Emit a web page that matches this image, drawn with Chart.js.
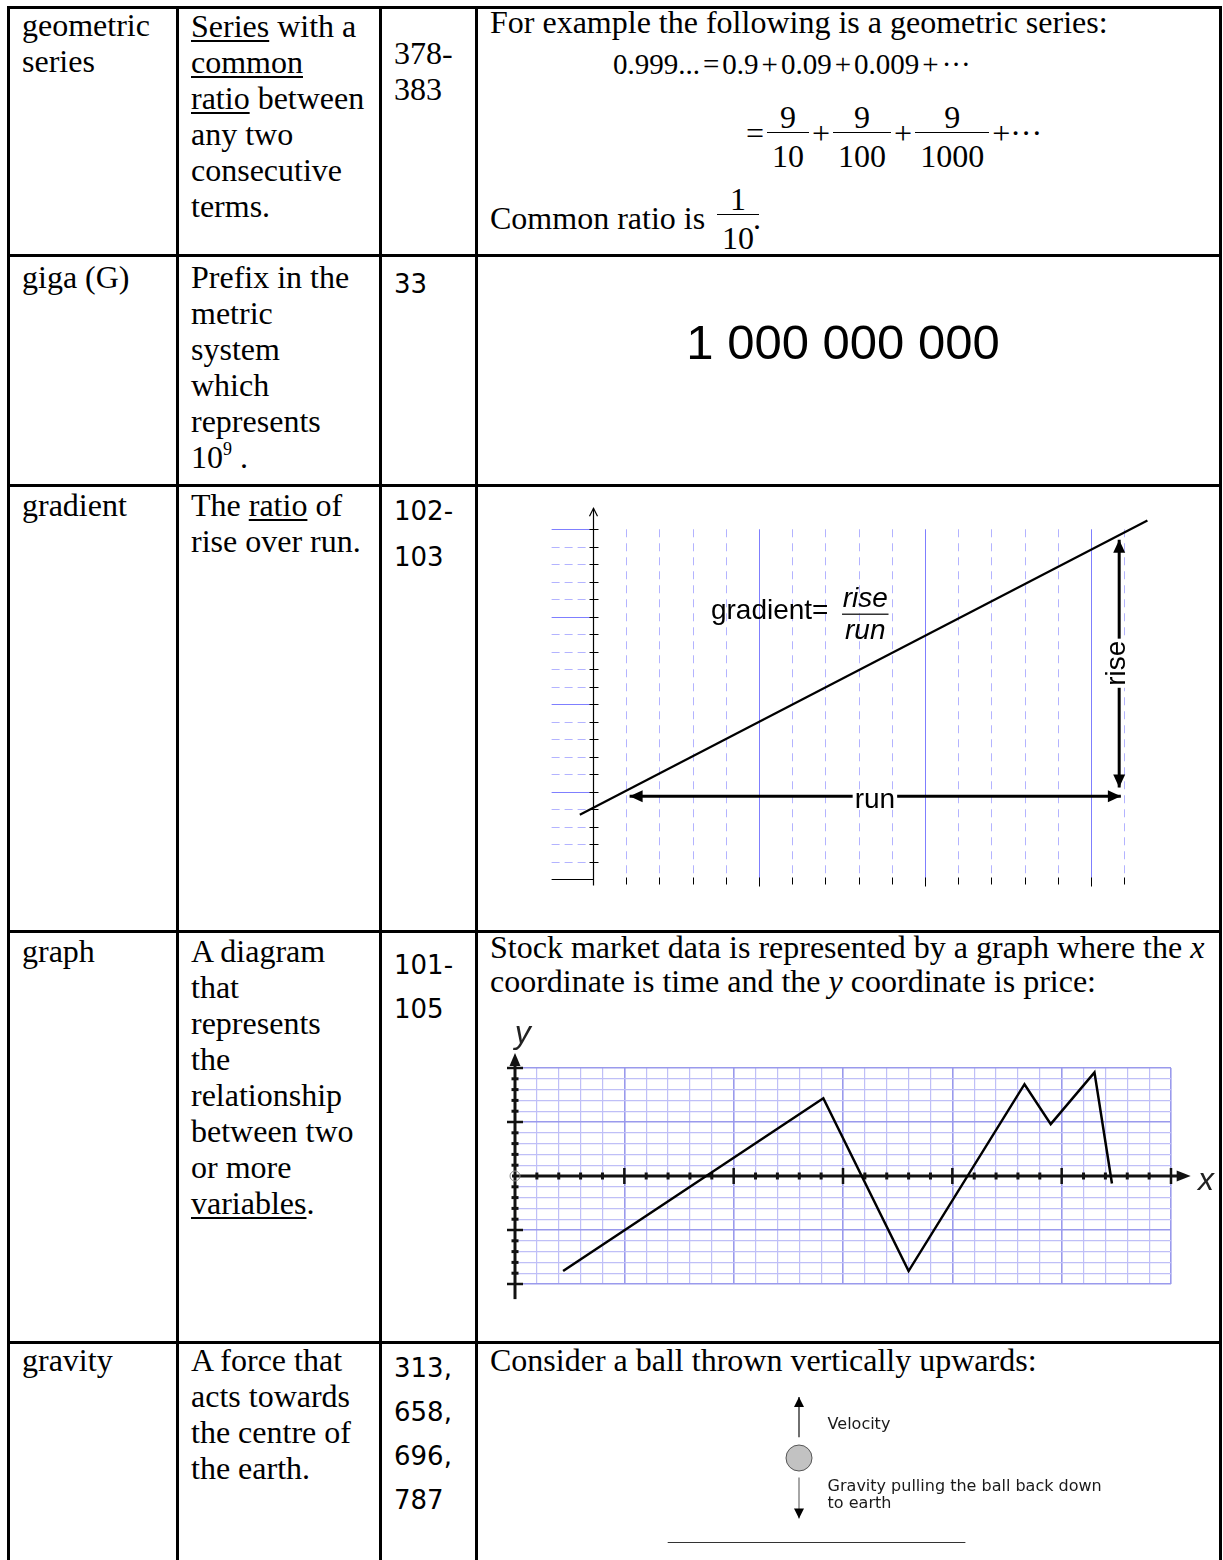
<!DOCTYPE html>
<html lang="en">
<head>
<meta charset="utf-8">
<title>Glossary - G</title>
<script src="https://cdn.jsdelivr.net/npm/chart.js@4.4.1/dist/chart.umd.min.js"></script>
<style>
  html, body { margin: 0; padding: 0; background: #fff; }
  body { position: relative; width: 1223px; height: 1560px; overflow: hidden; color: #000; }
  .rule { position: absolute; background: #000; }
  .txt { position: absolute; font-family: "Liberation Serif", "Times New Roman", serif; font-size: 32px; line-height: 36px; white-space: nowrap; }
  .txt u { text-decoration-thickness: 1.5px; text-underline-offset: 3px; }
  .num { position: absolute; font-family: "DejaVu Sans", Verdana, sans-serif; font-size: 26px; line-height: 44px; white-space: nowrap; }
  .row { display: flex; align-items: center; }
  .frac { display: inline-flex; flex-direction: column; }
  .frac .n { line-height: 30px; padding: 8px 5px 0; text-align: center; }
  .frac .d { line-height: 30px; padding: 8px 5px 0; text-align: center; border-top: 1.5px solid #000; }
  .op { margin: 0 3px; }
  .big { position: absolute; left: 843px; top: 312px; transform: translateX(-50%); font-family: "Liberation Sans", Arial, sans-serif;
         font-size: 49px; line-height: 60px; white-space: nowrap; }
  canvas { position: absolute; }
</style>
</head>
<body>

<!-- table rules -->
<div class="rule" style="left:7px;top:6px;width:3px;height:1554px"></div>
<div class="rule" style="left:176px;top:6px;width:3px;height:1554px"></div>
<div class="rule" style="left:379px;top:6px;width:3px;height:1554px"></div>
<div class="rule" style="left:475px;top:6px;width:3px;height:1554px"></div>
<div class="rule" style="left:1219px;top:6px;width:3px;height:1554px"></div>
<div class="rule" style="left:7px;top:6px;width:1215px;height:3px"></div>
<div class="rule" style="left:7px;top:254px;width:1215px;height:3px"></div>
<div class="rule" style="left:7px;top:484px;width:1215px;height:3px"></div>
<div class="rule" style="left:7px;top:930px;width:1215px;height:3px"></div>
<div class="rule" style="left:7px;top:1341px;width:1215px;height:3px"></div>

<!-- geometric series -->
<div class="txt" style="left:22px;top:7px">geometric<br>series</div>
<div class="txt" style="left:191px;top:8px"><u>Series</u> with a<br><u>common</u><br><u>ratio</u> between<br>any two<br>consecutive<br>terms.</div>
<div class="txt" style="left:394px;top:35px">378-<br>383</div>
<div class="txt" style="left:490px;top:4px">For example the following is a geometric series:</div>
<div class="txt" style="left:613px;top:46px;font-size:29px">0.999...<span class="op">=</span>0.9<span class="op">+</span>0.09<span class="op">+</span>0.009<span class="op">+</span>···</div>
<div class="txt row" style="left:743px;top:94px">
  <span class="op">=</span>
  <span class="frac"><span class="n">9</span><span class="d">10</span></span>
  <span class="op">+</span>
  <span class="frac"><span class="n">9</span><span class="d">100</span></span>
  <span class="op">+</span>
  <span class="frac"><span class="n">9</span><span class="d">1000</span></span>
  <span class="op">+···</span>
</div>
<div class="txt" style="left:490px;top:200px">Common ratio is</div>
<div class="txt" style="left:717px;top:176px"><span class="frac"><span class="n">1</span><span class="d">10</span></span></div>
<div class="txt" style="left:753px;top:200px">.</div>

<!-- giga -->
<div class="txt" style="left:22px;top:259px">giga (G)</div>
<div class="txt" style="left:191px;top:259px">Prefix in the<br>metric<br>system<br>which<br>represents<br>10<sup style="font-size:18px;line-height:0;vertical-align:13px">9</sup> .</div>
<div class="num" style="left:394px;top:262px">33</div>
<div class="big">1 000 000 000</div>

<!-- gradient -->
<div class="txt" style="left:22px;top:487px">gradient</div>
<div class="txt" style="left:191px;top:487px">The <u>ratio</u> of<br>rise over run.</div>
<div class="num" style="left:394px;top:488px;line-height:46px">102-<br>103</div>
<canvas id="gradientChart"></canvas>

<!-- graph -->
<div class="txt" style="left:22px;top:933px">graph</div>
<div class="txt" style="left:191px;top:933px">A diagram<br>that<br>represents<br>the<br>relationship<br>between two<br>or more<br><u>variables</u>.</div>
<div class="num" style="left:394px;top:943px">101-<br>105</div>
<div class="txt" style="left:490px;top:930px;line-height:34px">Stock market data is represented by a graph where the <i>x</i><br>coordinate is time and the <i>y</i> coordinate is price:</div>
<canvas id="stockChart" width="720" height="290" style="left:495px;top:1015px"></canvas>

<!-- gravity -->
<div class="txt" style="left:22px;top:1342px">gravity</div>
<div class="txt" style="left:191px;top:1342px">A force that<br>acts towards<br>the centre of<br>the earth.</div>
<div class="num" style="left:394px;top:1346px">313,<br>658,<br>696,<br>787</div>
<div class="txt" style="left:490px;top:1342px">Consider a ball thrown vertically upwards:</div>
<canvas id="gravityChart"></canvas>

<script>
// ---------- gradient diagram (one unit = one grid step) ----------
const gradGridX = [1, 2, 3, 4, 5, 6, 7, 8, 9, 10, 11, 12, 13, 14, 15, 16];
const gradGridY = [1, 2, 3, 4, 5, 6, 7, 8, 9, 10, 11, 12, 13, 14, 15, 16, 17, 18, 19, 20];
const gradLineX = [-0.4, 16.7];
const gradLineY = [3.7, 20.5];
const runArrowX = [1.1, 15.9];
const runArrowY = [4.75, 4.75];
const riseArrowX = [15.85, 15.85];
const riseArrowY = [19.4, 5.25];

// ---------- stock market graph ----------
const stockTime = [2.2, 14.1, 18.0, 23.3, 24.5, 26.5, 27.3];
const stockPrice = [-8.8, 7.2, -8.8, 8.5, 4.8, 9.6, -0.7];
const stockTicksX = [1, 2, 3, 4, 5, 6, 7, 8, 9, 10, 11, 12, 13, 14, 15, 16, 17, 18, 19, 20, 21, 22, 23, 24, 25, 26, 27, 28, 29, 30];
const stockTicksY = [-10, -9, -8, -7, -6, -5, -4, -3, -2, -1, 1, 2, 3, 4, 5, 6, 7, 8, 9, 10];

// ---------- gravity sketch (one unit = ball radius) ----------
const ballX = [0];
const ballY = [0];
const velocityX = [0, 0];
const velocityY = [1.6, 4.7];
const pullX = [0, 0];
const pullY = [-1.5, -4.65];
const groundX = [-10.1, 12.8];
const groundY = [-6.5, -6.5];

const pts = (xs, ys) => xs.map((v, i) => ({ x: v, y: ys[i] }));

// position a canvas so that its whole area is the data window
function placeCanvas(id, ox, oy, ux, uy, xMin, xMax, yMin, yMax) {
    const cv = document.getElementById(id);
    cv.width = Math.round((xMax - xMin) * ux);
    cv.height = Math.round((yMax - yMin) * uy);
    cv.style.left = Math.round(ox + xMin * ux) + 'px';
    cv.style.top = Math.round(oy - yMax * uy) + 'px';
    return cv;
}

function bareOptions(xMin, xMax, yMin, yMax) {
    return {
        responsive: false, animation: false, devicePixelRatio: 1, events: [],
        layout: { padding: 0, autoPadding: false },
        plugins: { legend: { display: false }, tooltip: { enabled: false } },
        scales: {
            x: { type: 'linear', min: xMin, max: xMax, display: false },
            y: { type: 'linear', min: yMin, max: yMax, display: false }
        }
    };
}

function arrowHead(ctx, fx, fy, tx, ty, len, half) {
    const a = Math.atan2(ty - fy, tx - fx);
    const bx = tx - len * Math.cos(a), by = ty - len * Math.sin(a);
    ctx.beginPath();
    ctx.moveTo(tx, ty);
    ctx.lineTo(bx + half * Math.sin(a), by - half * Math.cos(a));
    ctx.lineTo(bx - half * Math.sin(a), by + half * Math.cos(a));
    ctx.closePath();
    ctx.fill();
}

function arrowsOn(chart, index, both, len, half) {
    const d = chart.getDatasetMeta(index).data;
    const a = d[0], b = d[d.length - 1];
    arrowHead(chart.ctx, a.x, a.y, b.x, b.y, len, half);
    if (both) arrowHead(chart.ctx, b.x, b.y, a.x, a.y, len, half);
}

// ---------- gradient ----------
const gradStubX = -1.25, gradAxisTop = 21.2, gradAxisBottom = -0.35;

const gradientDecor = {
    id: 'gradientDecor',
    beforeDatasetsDraw(chart) {
        const { ctx, scales: { x, y } } = chart;
        const x0 = Math.round(x.getPixelForValue(0)) + 0.5;
        const y0 = Math.round(y.getPixelForValue(0)) + 0.5;
        const gridTop = y.getPixelForValue(gradGridY[gradGridY.length - 1]);
        ctx.save();
        ctx.lineWidth = 1;
        gradGridX.forEach(v => {
            const major = v % 5 === 0;
            const gx = Math.round(x.getPixelForValue(v)) + 0.5;
            ctx.strokeStyle = major ? '#7f7fff' : '#b3b3ff';
            ctx.setLineDash(major ? [] : [8, 6]);
            ctx.beginPath(); ctx.moveTo(gx, gridTop); ctx.lineTo(gx, y0); ctx.stroke();
            ctx.setLineDash([]);
            ctx.strokeStyle = '#000';
            ctx.beginPath(); ctx.moveTo(gx, y0 - 2); ctx.lineTo(gx, y0 + (major ? 7 : 5)); ctx.stroke();
        });
        gradGridY.forEach(v => {
            const major = v % 5 === 0;
            const gy = Math.round(y.getPixelForValue(v)) + 0.5;
            ctx.strokeStyle = major ? '#7f7fff' : '#b3b3ff';
            ctx.setLineDash(major ? [] : [8, 5]);
            ctx.beginPath(); ctx.moveTo(x.getPixelForValue(gradStubX), gy); ctx.lineTo(x0, gy); ctx.stroke();
            ctx.setLineDash([]);
            ctx.strokeStyle = '#000';
            ctx.beginPath(); ctx.moveTo(x0 - 4, gy); ctx.lineTo(x0 + 5, gy); ctx.stroke();
        });
        ctx.strokeStyle = '#000';
        ctx.lineWidth = 1.2;
        ctx.beginPath(); ctx.moveTo(x.getPixelForValue(gradStubX), y0); ctx.lineTo(x0, y0); ctx.stroke();
        const tip = y.getPixelForValue(gradAxisTop);
        ctx.beginPath(); ctx.moveTo(x0, y.getPixelForValue(gradAxisBottom)); ctx.lineTo(x0, tip); ctx.stroke();
        ctx.beginPath(); ctx.moveTo(x0 - 4, tip + 8); ctx.lineTo(x0, tip); ctx.lineTo(x0 + 4, tip + 8); ctx.stroke();
        ctx.restore();
    },
    afterDatasetsDraw(chart) {
        const { ctx, scales: { x, y } } = chart;
        ctx.save();
        ctx.fillStyle = '#000';
        arrowsOn(chart, 1, true, 13, 6);
        arrowsOn(chart, 2, true, 13, 6);

        ctx.font = '28px "Liberation Sans", Arial, sans-serif';
        ctx.textBaseline = 'middle';
        ctx.textAlign = 'center';
        // run label sits on its arrow
        let lx = x.getPixelForValue(8.49), ly = y.getPixelForValue(4.5);
        let w = ctx.measureText('run').width;
        ctx.fillStyle = '#fff';
        ctx.fillRect(lx - w / 2 - 2, ly - 9, w + 4, 18);
        ctx.fillStyle = '#000';
        ctx.fillText('run', lx, ly);
        // rise label, turned
        lx = x.getPixelForValue(riseArrowX[0]); ly = y.getPixelForValue(12.35);
        w = ctx.measureText('rise').width;
        ctx.translate(lx, ly);
        ctx.rotate(-Math.PI / 2);
        ctx.fillStyle = '#fff';
        ctx.fillRect(-w / 2 - 2, -11, w + 4, 20);
        ctx.fillStyle = '#000';
        ctx.fillText('rise', 0, -2);
        ctx.setTransform(1, 0, 0, 1, 0, 0);

        // gradient = rise / run
        ctx.textBaseline = 'alphabetic';
        ctx.textAlign = 'left';
        ctx.fillText('gradient=', x.getPixelForValue(3.55), y.getPixelForValue(14.85));
        ctx.textAlign = 'center';
        ctx.font = 'italic 28px "Liberation Sans", Arial, sans-serif';
        ctx.fillText('rise', x.getPixelForValue(8.2), y.getPixelForValue(15.55));
        ctx.fillText('run', x.getPixelForValue(8.2), y.getPixelForValue(13.75));
        ctx.strokeStyle = '#333';
        ctx.lineWidth = 1.5;
        ctx.beginPath();
        ctx.moveTo(x.getPixelForValue(7.5), y.getPixelForValue(15.15));
        ctx.lineTo(x.getPixelForValue(8.9), y.getPixelForValue(15.15));
        ctx.stroke();
        ctx.restore();
    }
};

const gradCanvas = placeCanvas('gradientChart', 593, 879, 33.2, 17.5, -1.6, 17.2, -0.6, 21.9);
new Chart(gradCanvas, {
    type: 'scatter',
    data: {
        datasets: [
            { data: pts(gradLineX, gradLineY), showLine: true, borderColor: '#000', borderWidth: 2.2, pointRadius: 0, clip: false },
            { data: pts(runArrowX, runArrowY), showLine: true, borderColor: '#000', borderWidth: 3, pointRadius: 0, clip: false },
            { data: pts(riseArrowX, riseArrowY), showLine: true, borderColor: '#000', borderWidth: 3, pointRadius: 0, clip: false }
        ]
    },
    options: bareOptions(-1.6, 17.2, -0.6, 21.9),
    plugins: [gradientDecor]
});

// ---------- stock market graph ----------
const stockAxisTopY = 11.4, stockAxisBottomY = -11.4, stockAxisEndX = 30.9;

const stockDecor = {
    id: 'stockDecor',
    beforeDatasetsDraw(chart) {
        const { ctx, scales: { x, y } } = chart;
        const x0 = x.getPixelForValue(0), y0 = y.getPixelForValue(0);
        ctx.save();
        ctx.strokeStyle = '#111';
        ctx.fillStyle = '#111';
        ctx.lineWidth = 3;
        // y axis
        const yTip = y.getPixelForValue(stockAxisTopY);
        ctx.beginPath(); ctx.moveTo(x0, y.getPixelForValue(stockAxisBottomY)); ctx.lineTo(x0, yTip + 8); ctx.stroke();
        arrowHead(ctx, x0, yTip + 20, x0, yTip, 13, 5.5);
        // x axis
        const xTip = x.getPixelForValue(stockAxisEndX);
        ctx.beginPath(); ctx.moveTo(x0 - 3, y0); ctx.lineTo(xTip - 8, y0); ctx.stroke();
        arrowHead(ctx, xTip - 20, y0, xTip, y0, 14, 5.5);
        // tick marks
        stockTicksX.forEach(v => {
            const major = v % 5 === 0;
            const tx = x.getPixelForValue(v);
            ctx.lineWidth = major ? 2.5 : 3;
            ctx.beginPath(); ctx.moveTo(tx, y0 - (major ? 8 : 3.5)); ctx.lineTo(tx, y0 + (major ? 8 : 3.5)); ctx.stroke();
        });
        stockTicksY.forEach(v => {
            const major = v % 5 === 0;
            const ty = y.getPixelForValue(v);
            ctx.lineWidth = major ? 2.5 : 3;
            ctx.beginPath(); ctx.moveTo(x0 - (major ? 8 : 3.5), ty); ctx.lineTo(x0 + (major ? 8 : 3.5), ty); ctx.stroke();
        });
        // origin
        ctx.lineWidth = 1;
        ctx.strokeStyle = '#888';
        ctx.beginPath(); ctx.arc(x0, y0, 5, 0, Math.PI * 2); ctx.stroke();
        // axis letters
        ctx.fillStyle = '#222';
        ctx.font = 'italic 32px "Liberation Sans", Arial, sans-serif';
        ctx.textAlign = 'center';
        ctx.textBaseline = 'middle';
        ctx.fillText('y', x.getPixelForValue(0.35), y.getPixelForValue(13.1));
        ctx.fillText('x', x.getPixelForValue(31.6), y.getPixelForValue(-0.5));
        ctx.restore();
    }
};

const stockGridColor = c => (c.tick && c.tick.value % 5 === 0) ? '#9a9aec' : '#bfbff7';
const stockGridWidth = c => (c.tick && c.tick.value % 5 === 0) ? 1.6 : 1.2;

new Chart(document.getElementById('stockChart'), {
    type: 'scatter',
    data: {
        datasets: [
            { data: pts(stockTime, stockPrice), showLine: true, borderColor: '#000', borderWidth: 2.5, pointRadius: 0, clip: false }
        ]
    },
    options: {
        responsive: false, animation: false, devicePixelRatio: 1, events: [],
        layout: { padding: { left: 20, top: 53, right: 44, bottom: 21 }, autoPadding: false },
        plugins: { legend: { display: false }, tooltip: { enabled: false } },
        scales: {
            x: {
                type: 'linear', min: 0, max: 30,
                ticks: { display: false, stepSize: 1 },
                border: { display: false },
                grid: { drawTicks: false, color: stockGridColor, lineWidth: stockGridWidth }
            },
            y: {
                type: 'linear', min: -10, max: 10,
                ticks: { display: false, stepSize: 1 },
                border: { display: false },
                grid: { drawTicks: false, color: stockGridColor, lineWidth: stockGridWidth }
            }
        }
    },
    plugins: [stockDecor]
});

// ---------- gravity sketch ----------
const gravityDecor = {
    id: 'gravityDecor',
    afterDatasetsDraw(chart) {
        const { ctx, scales: { x, y } } = chart;
        ctx.save();
        ctx.fillStyle = '#000';
        arrowsOn(chart, 1, false, 10, 5);
        arrowsOn(chart, 2, false, 10, 5);
        ctx.fillStyle = '#1a1a1a';
        ctx.font = '16px "DejaVu Sans", Verdana, sans-serif';
        ctx.textBaseline = 'middle';
        ctx.fillText('Velocity', x.getPixelForValue(2.2), y.getPixelForValue(2.55));
        ctx.fillText('Gravity pulling the ball back down', x.getPixelForValue(2.2), y.getPixelForValue(-2.2));
        ctx.fillText('to earth', x.getPixelForValue(2.2), y.getPixelForValue(-3.55));
        ctx.restore();
    }
};

const gravCanvas = placeCanvas('gravityChart', 799, 1458, 13, 13, -12, 25, -8, 6);
new Chart(gravCanvas, {
    type: 'scatter',
    data: {
        datasets: [
            { data: pts(ballX, ballY), pointRadius: 13, pointBackgroundColor: '#c2c2c2', pointBorderColor: '#555', pointBorderWidth: 1 },
            { data: pts(velocityX, velocityY), showLine: true, borderColor: '#222', borderWidth: 1.3, pointRadius: 0 },
            { data: pts(pullX, pullY), showLine: true, borderColor: '#777', borderWidth: 1.3, pointRadius: 0 },
            { data: pts(groundX, groundY), showLine: true, borderColor: '#333', borderWidth: 1, pointRadius: 0 }
        ]
    },
    options: bareOptions(-12, 25, -8, 6),
    plugins: [gravityDecor]
});
</script>
</body>
</html>
